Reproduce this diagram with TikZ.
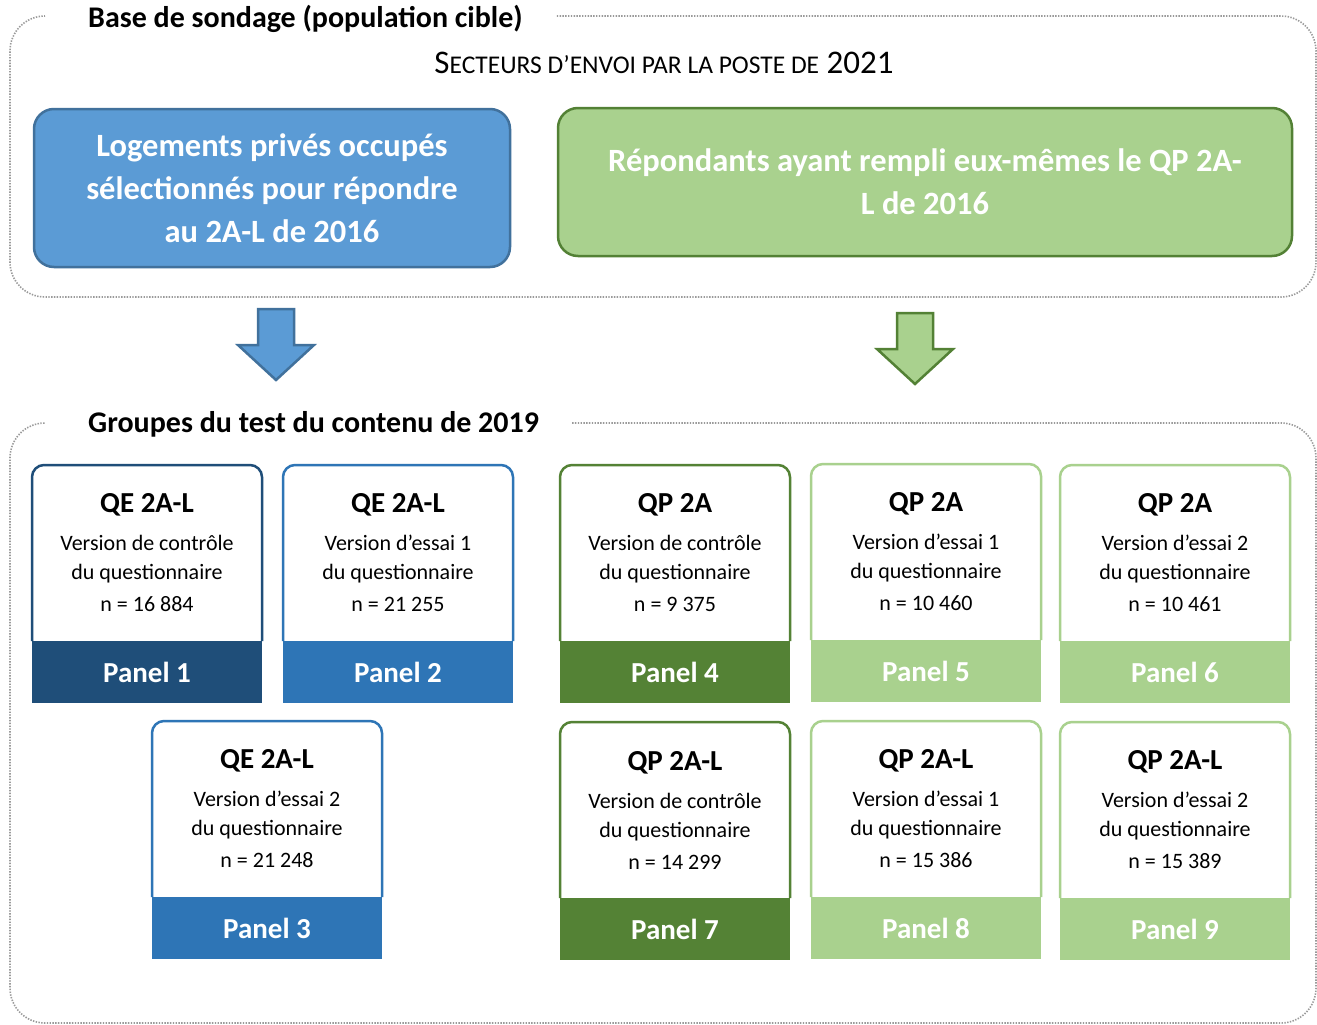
\documentclass[tikz,border=0pt]{standalone}
\usepackage{fontspec}
\setmainfont{Carlito}
\usetikzlibrary{positioning}
\definecolor{bleuClair}{HTML}{5B9BD5}
\definecolor{bleuBord}{HTML}{41719C}
\definecolor{bleuFonce}{HTML}{1F4E79}
\definecolor{bleuMoyen}{HTML}{2E75B6}
\definecolor{vertClair}{HTML}{A9D18E}
\definecolor{vertBord}{HTML}{538135}
\definecolor{vertFonce}{HTML}{548235}
\definecolor{pointille}{HTML}{9A9A9A}
\newcommand{\titrepanel}[1]{{\fontsize{29}{29}\selectfont\bfseries #1}}
\newcommand{\petitecap}[1]{{\fontsize{25.5}{25.5}\selectfont #1}}
\tikzset{
	cadre/.style={draw=pointille, line width=1.6pt, dash pattern=on 1.4pt off 1.4pt, rounded corners=35pt},
	titre/.style={font=\fontsize{30}{30}\selectfont\bfseries, inner sep=0, anchor=west},
	grandeboite/.style={draw=#1, line width=2.5pt, rounded corners=20pt, align=center,
		text=white, font=\fontsize{32.5}{43}\selectfont\bfseries},
	fleche/.style={draw=#1, line width=2.5pt, line join=miter},
	paneltexte/.style={minimum width=228pt, minimum height=176pt, inner sep=0, outer sep=0,
		align=center, font=\fontsize{22}{29}\selectfont},
	panelbarre/.style={fill=#1, minimum width=230pt, minimum height=62pt, inner sep=0, outer sep=0,
		text=white, font=\fontsize{29}{29}\selectfont\bfseries},
	panelbord/.style={draw=#1, line width=2.5pt, rounded corners=12pt}
}

\begin{document}
\begin{tikzpicture}[x=1pt, y=-1pt]
	\useasboundingbox[fill=white] (0,0) rectangle (1317,1025);
	
	% base de sondage
	\node[titre] (base) at (88,19) {Base de sondage (population cible)};
	\draw[cadre] ([xshift=34pt]base.east |- 0,16) -| (1316,297) -| (10,16) -- (45,16);
	\node (secteurs) at (664,63) {\fontsize{33}{33}\selectfont S\petitecap{ECTEURS D’ENVOI PAR LA POSTE DE} 2021};
	\node[grandeboite=bleuBord, fill=bleuClair, minimum width=476pt, minimum height=158pt] (logements) at (272,188)
		{Logements privés occupés\\ sélectionnés pour répondre\\ au 2A-L de 2016};
	\node[grandeboite=vertBord, fill=vertClair, minimum width=734pt, minimum height=148pt] (repondants) at (925,182)
		{Répondants ayant rempli eux-mêmes le QP 2A-\\ L de 2016};
	
	\draw[fleche=bleuBord, fill=bleuClair] (258,309) -- (294,309) -- (294,345) -- (314,345) -- (276,380) -- (238,345) -- (258,345) -- cycle;
	\draw[fleche=vertBord, fill=vertClair] (897,313) -- (933,313) -- (933,349) -- (953,349) -- (915,384) -- (877,349) -- (897,349) -- cycle;
	
	% groupes du test
	\node[titre] (groupes) at (88,424) {Groupes du test du contenu de 2019};
	\draw[cadre] ([xshift=33pt]groupes.east |- 0,423) -| (1316,1023) -| (10,423) -- (45,423);
	
	\node[paneltexte, anchor=north] (t1) at (147,465) {\titrepanel{QE 2A-L}\\[9pt] Version de contrôle\\ du questionnaire\\[3pt] n = 16 884};
	\node[panelbarre=bleuFonce, below=0pt of t1] (b1) {Panel 1};
	\draw[panelbord=bleuFonce] (b1.north west) |- (t1.north) -| (b1.north east);
	
	\node[paneltexte, anchor=north] (t2) at (398,465) {\titrepanel{QE 2A-L}\\[9pt] Version d’essai 1\\ du questionnaire\\[3pt] n = 21 255};
	\node[panelbarre=bleuMoyen, below=0pt of t2] (b2) {Panel 2};
	\draw[panelbord=bleuMoyen] (b2.north west) |- (t2.north) -| (b2.north east);
	
	\node[paneltexte, anchor=north] (t3) at (267,721) {\titrepanel{QE 2A-L}\\[9pt] Version d’essai 2\\ du questionnaire\\[3pt] n = 21 248};
	\node[panelbarre=bleuMoyen, below=0pt of t3] (b3) {Panel 3};
	\draw[panelbord=bleuMoyen] (b3.north west) |- (t3.north) -| (b3.north east);
	
	\node[paneltexte, anchor=north] (t4) at (675,465) {\titrepanel{QP 2A}\\[9pt] Version de contrôle\\ du questionnaire\\[3pt] n = 9 375};
	\node[panelbarre=vertFonce, below=0pt of t4] (b4) {Panel 4};
	\draw[panelbord=vertFonce] (b4.north west) |- (t4.north) -| (b4.north east);
	
	\node[paneltexte, anchor=north] (t5) at (926,464) {\titrepanel{QP 2A}\\[9pt] Version d’essai 1\\ du questionnaire\\[3pt] n = 10 460};
	\node[panelbarre=vertClair, below=0pt of t5] (b5) {Panel 5};
	\draw[panelbord=vertClair] (b5.north west) |- (t5.north) -| (b5.north east);
	
	\node[paneltexte, anchor=north] (t6) at (1175,465) {\titrepanel{QP 2A}\\[9pt] Version d’essai 2\\ du questionnaire\\[3pt] n = 10 461};
	\node[panelbarre=vertClair, below=0pt of t6] (b6) {Panel 6};
	\draw[panelbord=vertClair] (b6.north west) |- (t6.north) -| (b6.north east);
	
	\node[paneltexte, anchor=north] (t7) at (675,722) {\titrepanel{QP 2A-L}\\[9pt] Version de contrôle\\ du questionnaire\\[3pt] n = 14 299};
	\node[panelbarre=vertFonce, below=0pt of t7] (b7) {Panel 7};
	\draw[panelbord=vertFonce] (b7.north west) |- (t7.north) -| (b7.north east);
	
	\node[paneltexte, anchor=north] (t8) at (926,721) {\titrepanel{QP 2A-L}\\[9pt] Version d’essai 1\\ du questionnaire\\[3pt] n = 15 386};
	\node[panelbarre=vertClair, below=0pt of t8] (b8) {Panel 8};
	\draw[panelbord=vertClair] (b8.north west) |- (t8.north) -| (b8.north east);
	
	\node[paneltexte, anchor=north] (t9) at (1175,722) {\titrepanel{QP 2A-L}\\[9pt] Version d’essai 2\\ du questionnaire\\[3pt] n = 15 389};
	\node[panelbarre=vertClair, below=0pt of t9] (b9) {Panel 9};
	\draw[panelbord=vertClair] (b9.north west) |- (t9.north) -| (b9.north east);
\end{tikzpicture}
\end{document}
